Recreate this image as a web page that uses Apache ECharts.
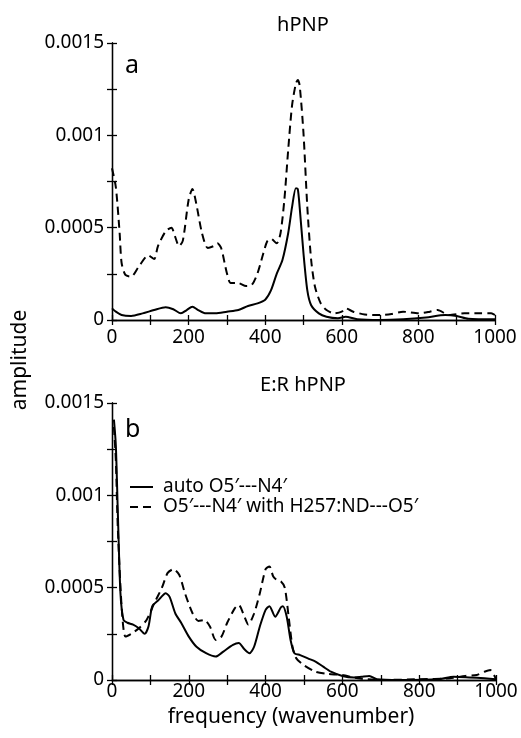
<!DOCTYPE html>
<html><head><meta charset="utf-8">
<script src="https://cdn.jsdelivr.net/npm/echarts@6/dist/echarts.min.js"></script>
<style>html,body{margin:0;padding:0;background:#fff}#c{width:521px;height:738px}</style>
</head><body><div id="c"></div>
<script>
// Panel a (hPNP)
const freqSolidA = [0,10,25,50,80,110,140,160,180,195,210,225,245,270,300,330,355,380,400,415,430,445,460,470,480,485,490,500,510,520,540,560,590,610,640,700,760,820,870,900,930,1000];
const solidA = [0.000063,0.000045,0.000027,0.000022,0.000036,0.000054,0.000069,0.000058,0.000036,0.000054,0.000072,0.000054,0.000036,0.000036,0.000045,0.000054,0.000076,0.00009,0.00011,0.00016,0.00025,0.000325,0.00047,0.00061,0.000714,0.00071,0.00061,0.00036,0.00016,0.00008,0.000036,0.000018,0.00001,0.000018,0.000004,0.0,0.000004,0.000014,0.000027,0.000022,0.000007,0.000004];
const freqDashA = [0,10,20,25,35,50,70,95,110,120,140,155,165,175,185,200,210,220,235,250,265,275,285,300,310,330,350,365,380,395,405,415,430,440,450,460,470,480,485,490,500,510,520,530,545,560,580,600,610,630,660,700,730,760,800,830,850,880,920,960,990,1000];
const dashA = [0.000822,0.00072,0.00047,0.00031,0.000244,0.000235,0.00029,0.00035,0.00033,0.0004,0.00048,0.0005,0.00045,0.0004,0.00043,0.00065,0.00071,0.00063,0.00047,0.00039,0.0004,0.000415,0.00039,0.000253,0.0002,0.0002,0.000184,0.00019,0.000253,0.00036,0.000425,0.00044,0.000415,0.00047,0.00065,0.00092,0.00116,0.00128,0.0013,0.00127,0.00101,0.00061,0.000325,0.00018,0.00009,0.000054,0.000036,0.000045,0.000063,0.000045,0.00003,0.000027,0.000033,0.000045,0.000036,0.000045,0.000054,0.000027,0.000036,0.000036,0.000036,0.000027];
// Panel b (E:R hPNP)
const freqSolidB = [5,10,15,22,30,40,55,70,85,95,105,120,140,150,165,180,200,220,245,270,290,315,330,345,358,370,385,400,410,425,440,445,455,465,475,490,510,530,550,570,600,630,650,670,690,750,850,890,930,970,1000];
const solidB = [0.00141,0.00127,0.00092,0.00047,0.000325,0.00031,0.0003,0.00028,0.00025,0.00029,0.0004,0.00043,0.00047,0.00045,0.00036,0.00031,0.000235,0.00018,0.000145,0.000127,0.000154,0.00019,0.0002,0.000166,0.000145,0.00018,0.00029,0.00038,0.0004,0.000343,0.000394,0.0004,0.000343,0.000217,0.000145,0.000135,0.000117,0.0001,0.000072,0.000045,0.000022,0.000014,0.000018,0.000022,0.000004,0.0,0.000004,0.000018,0.000014,0.000009,0.000004];
const freqDashB = [5,10,15,25,35,50,70,90,110,130,145,160,175,190,210,225,240,255,270,285,300,320,330,345,355,370,385,400,410,420,430,440,450,460,470,480,500,530,560,600,640,700,800,880,920,950,970,985,1000];
const dashB = [0.00137,0.00119,0.00083,0.0004,0.000235,0.00025,0.00028,0.000325,0.000415,0.0005,0.00058,0.0006,0.00057,0.00047,0.00036,0.00032,0.000325,0.00029,0.000217,0.000235,0.00031,0.000389,0.000407,0.000343,0.0003,0.00036,0.00047,0.0006,0.000615,0.00056,0.00054,0.000533,0.0005,0.000343,0.00018,0.000117,0.00008,0.000045,0.000033,0.000027,0.000009,0.0,0.000004,0.000009,0.000022,0.000027,0.000045,0.000054,0.000004];
const panelTitles = ['hPNP', 'E:R hPNP'];
const panelLetters = ['a', 'b'];
const legendNames = ['auto O5\u2032---N4\u2032', 'O5\u2032---N4\u2032 with H257:ND---O5\u2032'];
const xLabel = 'frequency (wavenumber)';
const yLabel = 'amplitude';

const FONT = '"Noto Sans", sans-serif';
const pairs = (xs, ys) => xs.map((x, i) => [x, ys[i]]);
const grids = [
  {left: 112, width: 383, top: 43, height: 277},
  {left: 112, width: 384, top: 403, height: 277}
];
const xMargins = [8, 2];
const xFmt = v => (Math.round(v) % 200 === 0 ? String(Math.round(v)) : '');
const yFmt = v => {
  const k = Math.round(v / 0.00025);
  if (k % 2 !== 0) return '';
  return ['0', '', '0.0005', '', '0.001', '', '0.0015'][k];
};
const axisLine = {show: true, lineStyle: {color: '#000', width: 1.3}};
const tick = {show: true, inside: true, length: 5, lineStyle: {color: '#000', width: 1.3}};
const xAxes = [], yAxes = [];
grids.forEach((g, i) => {
  xAxes.push({type: 'value', gridIndex: i, position: 'bottom', min: 0, max: 1000, interval: 100,
    axisLine, axisTick: tick, splitLine: {show: false},
    axisLabel: {formatter: xFmt, color: '#000', fontFamily: FONT, fontSize: 19, margin: xMargins[i], showMaxLabel: true}});
  xAxes.push({type: 'value', gridIndex: i, position: 'top', min: 0, max: 1000, interval: 100,
    axisLine, axisTick: tick, splitLine: {show: false}, axisLabel: {show: false}});
  yAxes.push({type: 'value', gridIndex: i, position: 'left', min: 0, max: 0.0015, interval: 0.00025,
    axisLine, axisTick: tick, splitLine: {show: false},
    axisLabel: {formatter: yFmt, color: '#000', fontFamily: FONT, fontSize: 19, margin: 8, showMaxLabel: true}});
  yAxes.push({type: 'value', gridIndex: i, position: 'right', min: 0, max: 0.0015, interval: 0.00025,
    axisLine, axisTick: tick, splitLine: {show: false}, axisLabel: {show: false}});
});
const mk = (data, gi, dashed) => ({
  type: 'line', xAxisIndex: gi * 2, yAxisIndex: gi * 2, data, showSymbol: false, smooth: 0.25,
  lineStyle: {color: '#000', width: 2, type: dashed ? [8, 5] : 'solid'}, animation: false, z: dashed ? 3 : 4
});
const series = [
  mk(pairs(freqSolidA, solidA), 0, false),
  mk(pairs(freqDashA, dashA), 0, true),
  mk(pairs(freqSolidB, solidB), 1, false),
  mk(pairs(freqDashB, dashB), 1, true)
];
const txt = (x, y, s, size, extra) => ({type: 'text', x, y, style: Object.assign({text: s, fill: '#000', font: size + 'px ' + FONT}, extra || {})});
const graphic = [
  txt(303, 25, panelTitles[0], 20, {textAlign: 'center', textVerticalAlign: 'middle'}),
  txt(303, 385, panelTitles[1], 20, {textAlign: 'center', textVerticalAlign: 'middle'}),
  txt(125, 66, panelLetters[0], 25, {textVerticalAlign: 'middle'}),
  txt(125, 430, panelLetters[1], 25, {textVerticalAlign: 'middle'}),
  txt(291, 717, xLabel, 21, {textAlign: 'center', textVerticalAlign: 'middle'}),
  {type: 'text', x: 20, y: 360, rotation: Math.PI / 2, style: {text: yLabel, fill: '#000', font: '21px ' + FONT, textAlign: 'center', textVerticalAlign: 'middle'}},
  {type: 'line', shape: {x1: 130, y1: 487, x2: 153, y2: 487}, style: {stroke: '#000', lineWidth: 2}},
  {type: 'line', shape: {x1: 130, y1: 507, x2: 153, y2: 507}, style: {stroke: '#000', lineWidth: 2, lineDash: [8, 5]}},
  txt(163, 487, legendNames[0], 19, {textVerticalAlign: 'middle'}),
  txt(163, 507, legendNames[1], 19, {textVerticalAlign: 'middle'})
];
const chart = echarts.init(document.getElementById('c'), null, {renderer: 'canvas'});
chart.setOption({backgroundColor: '#fff', animation: false, grid: grids, xAxis: xAxes, yAxis: yAxes, series, graphic});
</script></body></html>
